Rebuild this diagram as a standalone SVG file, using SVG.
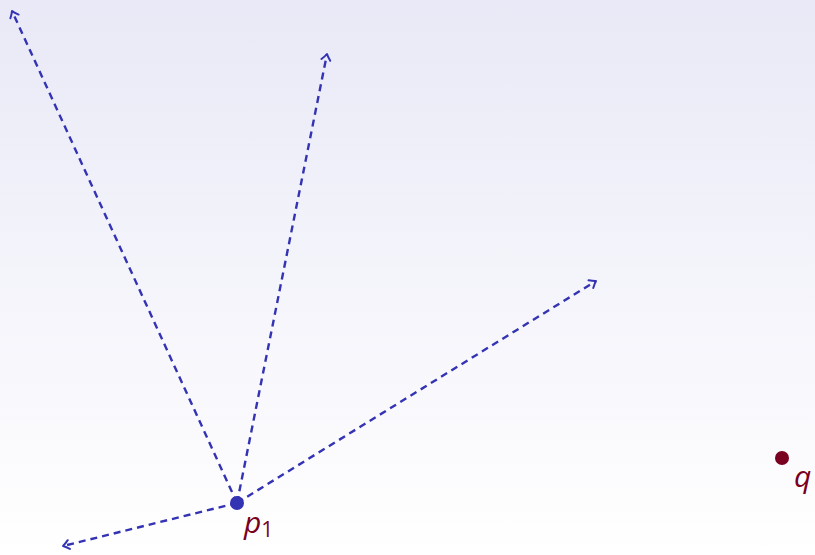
<svg xmlns="http://www.w3.org/2000/svg" width="815" height="555" viewBox="0 0 815 555">
<defs>
<linearGradient id="bg" x1="0" y1="0" x2="0" y2="1">
<stop offset="0" stop-color="#e9e9f7"/>
<stop offset="1" stop-color="#ffffff"/>
</linearGradient>
<marker id="arr" viewBox="-8 -6 10 12" markerWidth="10" markerHeight="12" refX="0" refY="0" orient="auto" markerUnits="userSpaceOnUse">
<path d="M-6,-4.5 Q-2,-1 0,0 Q-2,1 -6,4.5" fill="none" stroke="#3333b3" stroke-width="2" stroke-linecap="round" stroke-linejoin="round"/>
</marker>
<style>
.ray{fill:none;stroke:#3333b3;stroke-width:2.4;stroke-dasharray:7 5;marker-end:url(#arr)}
.lbl{font-family:"Open Sans","DejaVu Sans",sans-serif;font-style:italic;fill:#7a0020}
</style>
</defs>
<rect width="815" height="555" fill="url(#bg)"/>
<g id="connectors">
<line class="ray" x1="237" y1="503" x2="12" y2="11"/>
<line class="ray" x1="237" y1="503" x2="327" y2="54"/>
<line class="ray" x1="237" y1="503" x2="596" y2="281"/>
<line class="ray" x1="237" y1="503" x2="63" y2="546"/>
</g>
<g id="p1">
<circle cx="237" cy="503" r="7" fill="#3333b3"/>
<text class="lbl" x="244" y="533" font-size="30">p<tspan font-style="normal" font-size="21" dy="4">1</tspan></text>
</g>
<g id="q">
<circle cx="782" cy="458" r="7" fill="#7a0020"/>
<text class="lbl" x="794" y="487" font-size="30">q</text>
</g>
</svg>
